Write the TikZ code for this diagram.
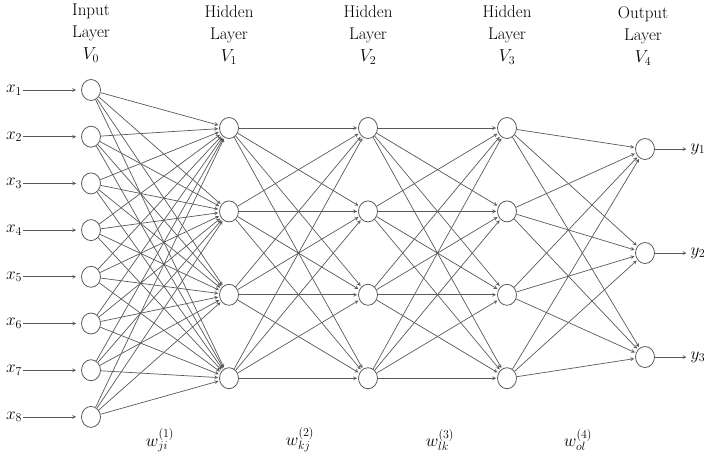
\documentclass[tikz,border=0pt]{standalone}
\usepackage{tikz}
\usetikzlibrary{shapes.geometric, arrows}

\begin{document}
\begin{tikzpicture}[
    x=1pt, y=-1pt,
    neuron/.style={ellipse, draw=black!65, line width=0.8pt, minimum width=19pt, minimum height=21pt, inner sep=0pt},
    head/.style={align=center, font=\fontsize{17}{22}\selectfont},
    lab/.style={font=\fontsize{17}{20}\selectfont, inner sep=1pt},
    arrow/.style={->, draw=black!65, line width=0.7pt, >=stealth, shorten >=1pt}
]
\useasboundingbox (0,0) rectangle (708,464);

% Headers
\node[head] (t0) at (91,33) {Input\\Layer\\$V_0$};
\node[head] (t1) at (229,35) {Hidden\\Layer\\$V_1$};
\node[head] (t2) at (368,35) {Hidden\\Layer\\$V_2$};
\node[head] (t3) at (507,35) {Hidden\\Layer\\$V_3$};
\node[head] (t4) at (643,36) {Output\\Layer\\$V_4$};

% Input layer
\foreach \i [evaluate=\i as \y using {90+46.7*(\i-1)}] in {1,...,8} {
  \node[neuron] (i\i) at (91,\y) {};
  \node[lab] (x\i) at (14,\y) {$x_{\i}$};
  \draw[arrow, shorten >=5pt] (x\i) -- (i\i);
}

% Hidden layers
\foreach \l/\xx in {a/229, b/368, c/507} {
  \foreach \j [evaluate=\j as \y using {128+83.4*(\j-1)}] in {1,...,4} {
    \node[neuron] (\l\j) at (\xx,\y) {};
  }
}

% Output layer
\foreach \k/\y in {1/149, 2/253, 3/357} {
  \node[neuron] (o\k) at (645,\y) {};
  \node[lab] (y\k) at (698,\y) {$y_{\k}$};
  \draw[arrow, shorten >=3pt] (o\k) -- (y\k);
}

% Weights
\foreach \i in {1,...,8} \foreach \j in {1,...,4} \draw[arrow] (i\i) -- (a\j);
\foreach \i in {1,...,4} \foreach \j in {1,...,4} \draw[arrow] (a\i) -- (b\j);
\foreach \i in {1,...,4} \foreach \j in {1,...,4} \draw[arrow] (b\i) -- (c\j);
\foreach \i in {1,...,4} \foreach \j in {1,...,3} \draw[arrow] (c\i) -- (o\j);

% Weight labels
\node[lab] (w1) at (160,440) {$w^{(1)}_{ji}$};
\node[lab] (w2) at (300,440) {$w^{(2)}_{kj}$};
\node[lab] (w3) at (440,440) {$w^{(3)}_{lk}$};
\node[lab] (w4) at (578,440) {$w^{(4)}_{ol}$};

\end{tikzpicture}
\end{document}
